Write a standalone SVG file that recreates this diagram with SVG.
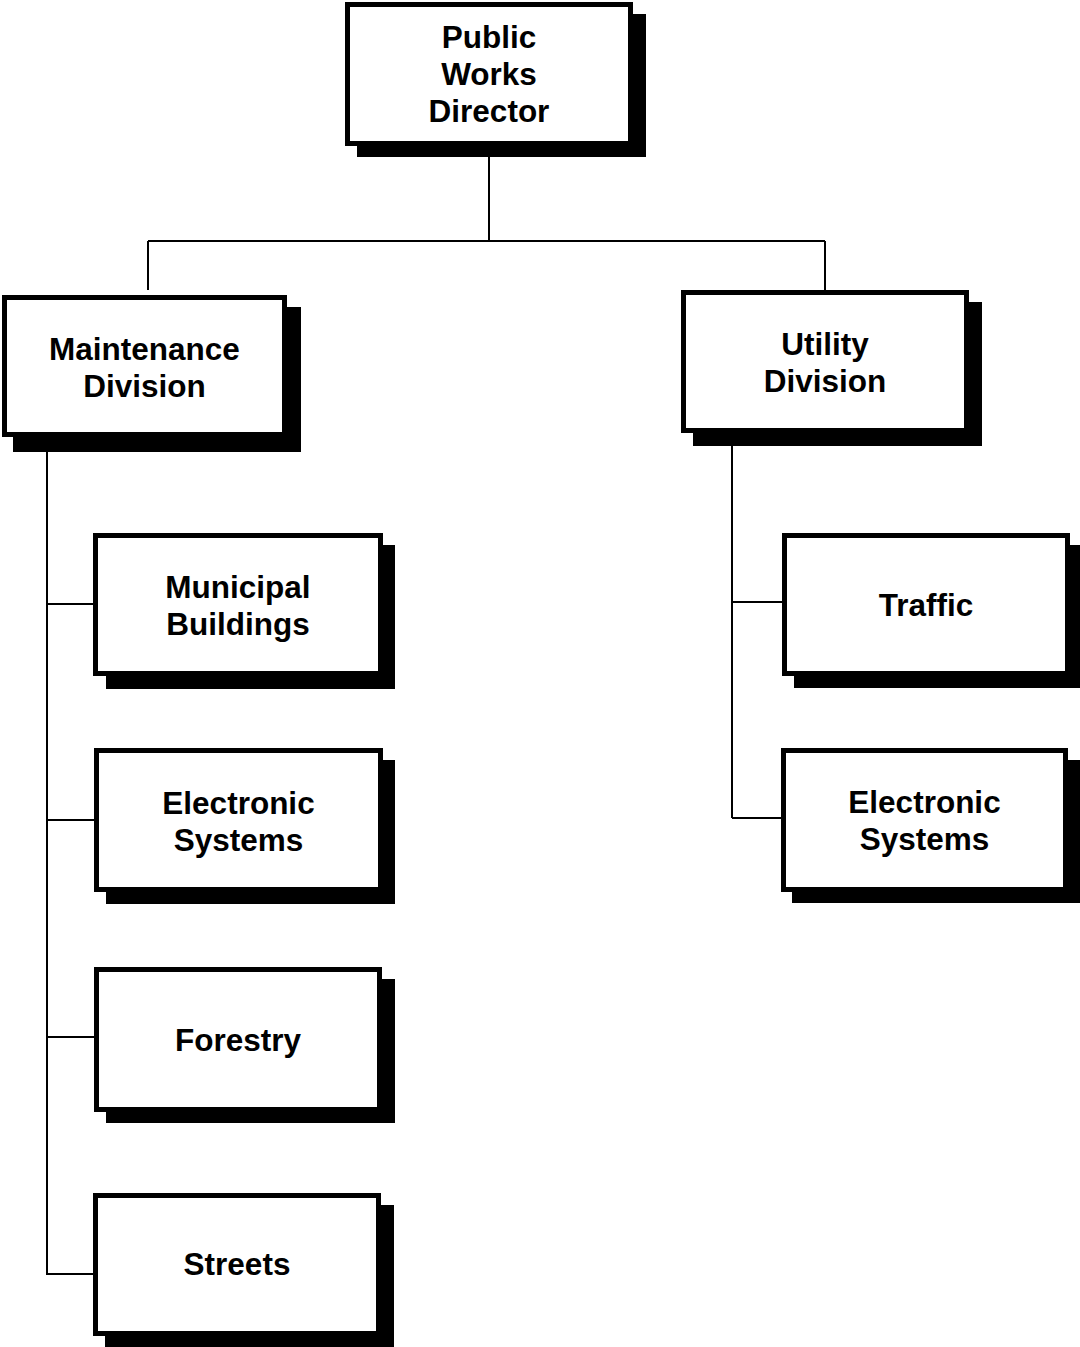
<svg xmlns="http://www.w3.org/2000/svg" width="1080" height="1347" viewBox="0 0 1080 1347">
  <style>
    .shadow { fill: #000; }
    .box { fill: #fff; stroke: #000; stroke-width: 5; }
    .label { font-family: "Liberation Sans", Arial, sans-serif; font-weight: bold; font-size: 31.5px; fill: #000; text-anchor: middle; }
    .link { fill: none; stroke: #000; stroke-width: 2; }
  </style>
  <rect x="0" y="0" width="1080" height="1347" fill="#fff"/>

  <!-- connectors -->
  <g id="connectors">
    <path class="link" d="M489,146 V241 M148,241 H825 M148,241 V290 M825,241 V290"/>
    <path class="link" d="M47,440 V1275 M47,604 H96 M47,820 H97 M47,1037 H97 M47,1274 H96"/>
    <path class="link" d="M732,433 V818 M732,602 H785 M732,818 H784"/>
  </g>

  <g id="director">
    <rect class="shadow" x="357" y="14" width="289" height="143"/>
    <rect class="box" x="347.5" y="4.5" width="283" height="139"/>
    <text class="label" x="489" y="48">Public</text>
    <text class="label" x="489" y="85">Works</text>
    <text class="label" x="489" y="122">Director</text>
  </g>

  <g id="maintenance">
    <rect class="shadow" x="13" y="307" width="288" height="145"/>
    <rect class="box" x="4.5" y="297.5" width="280" height="137"/>
    <text class="label" x="144.5" y="360">Maintenance</text>
    <text class="label" x="144.5" y="397">Division</text>
  </g>

  <g id="utility">
    <rect class="shadow" x="693" y="302" width="289" height="144"/>
    <rect class="box" x="683.5" y="292.5" width="283" height="138"/>
    <text class="label" x="825" y="355">Utility</text>
    <text class="label" x="825" y="392">Division</text>
  </g>

  <g id="municipal-buildings">
    <rect class="shadow" x="106" y="545" width="289" height="144"/>
    <rect class="box" x="95.5" y="535.5" width="285" height="138"/>
    <text class="label" x="238" y="598">Municipal</text>
    <text class="label" x="238" y="635">Buildings</text>
  </g>

  <g id="electronic-systems-maintenance">
    <rect class="shadow" x="106" y="760" width="289" height="144"/>
    <rect class="box" x="96.5" y="750.5" width="284" height="139"/>
    <text class="label" x="238.5" y="814">Electronic</text>
    <text class="label" x="238.5" y="851">Systems</text>
  </g>

  <g id="forestry">
    <rect class="shadow" x="106" y="979" width="289" height="144"/>
    <rect class="box" x="96.5" y="969.5" width="283" height="140"/>
    <text class="label" x="238" y="1051">Forestry</text>
  </g>

  <g id="streets">
    <rect class="shadow" x="105" y="1205" width="289" height="142"/>
    <rect class="box" x="95.5" y="1195.5" width="283" height="138"/>
    <text class="label" x="237" y="1275">Streets</text>
  </g>

  <g id="traffic">
    <rect class="shadow" x="794" y="545" width="290" height="143"/>
    <rect class="box" x="784.5" y="535.5" width="283" height="138"/>
    <text class="label" x="926" y="616">Traffic</text>
  </g>

  <g id="electronic-systems-utility">
    <rect class="shadow" x="792" y="760" width="292" height="143"/>
    <rect class="box" x="783.5" y="750.5" width="282" height="139"/>
    <text class="label" x="924.5" y="813">Electronic</text>
    <text class="label" x="924.5" y="850">Systems</text>
  </g>
</svg>
